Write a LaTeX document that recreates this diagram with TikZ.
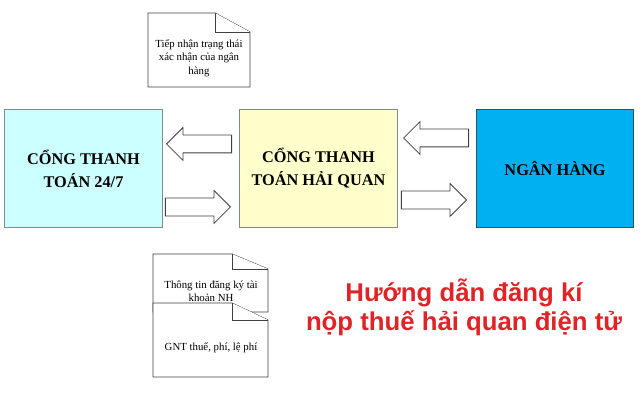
\documentclass[tikz,border=0pt]{standalone}
\usepackage{fontspec}
\setmainfont{Liberation Serif}
\newfontfamily\headfont{Liberation Sans}
\usetikzlibrary{shapes.arrows}
\definecolor{xcyan}{HTML}{CCFFFF}
\definecolor{xyellow}{HTML}{FFFFCC}
\definecolor{xblue}{HTML}{00B0F0}
\definecolor{xred}{HTML}{E02326}
\definecolor{xgray}{HTML}{7F8C8C}
\definecolor{xnavy}{HTML}{2F4F6F}
\tikzset{
	gate/.style={draw=xgray, line width=0.7pt, minimum width=3.925cm, minimum height=2.925cm, align=center, font=\fontsize{11.6}{16.3}\selectfont\bfseries},
	blockarrow/.style={draw=black!75, fill=white, line width=0.6pt, single arrow, single arrow head extend=0.1875cm, minimum width=0.8cm, minimum height=1.625cm, inner xsep=0pt, inner ysep=0.2125cm, anchor=tip},
	doc/.style={draw=black!75, fill=white, line width=0.6pt},
	doctext/.style={font=\fontsize{7.7}{9.5}\selectfont, align=center},
}

\begin{document}
\begin{tikzpicture}[x=0.025cm, y=-0.025cm]
	\useasboundingbox (0,0) rectangle (640,400);

	% Gateways
	\node[gate, fill=xcyan] (pay) at (83.5,168.5) {CỔNG THANH\\TOÁN 24/7};
	\node[gate, fill=xyellow] (customs) at (318.5,168.5) {CỔNG THANH\\TOÁN HẢI QUAN};
	\node[gate, fill=xblue, draw=xnavy] (bank) at (555,168.5) {NGÂN HÀNG};

	% Block arrows, placed by their tips
	\node[blockarrow, shape border rotate=180] (toPay) at (166,144) {};
	\node[blockarrow] (fromPay) at (231,207) {};
	\node[blockarrow, shape border rotate=180] (toCustoms) at (403,138) {};
	\node[blockarrow] (toBank) at (467,200) {};

	% Top document
	\draw[doc] (148,13) -- (215,13) -- (250,32) -- (250,87) -- (148,87) -- cycle;
	\draw[doc] (215,13) -- (215,32) -- (250,32);
	\node[doctext] (confirm) at (199,58) {Tiếp nhận trạng thái\\xác nhận của ngân\\hàng};

	% Bottom documents
	\draw[doc] (153,254) -- (232,254) -- (268,269) -- (268,312) -- (153,312) -- cycle;
	\draw[doc] (232,254) -- (232,269) -- (268,269);
	\node[doctext] (account) at (211,291) {Thông tin đăng ký tài\\khoản NH};
	\draw[doc] (153,303) -- (232,303) -- (268,320) -- (268,377) -- (153,377) -- cycle;
	\draw[doc] (232,303) -- (232,320) -- (268,320);
	\node[doctext] (fees) at (211,348) {GNT thuế, phí, lệ phí};

	% Title
	\node[font=\headfont\bfseries\fontsize{18.3}{20.6}\selectfont, text=xred, align=center] (title) at (464,307) {Hướng dẫn đăng kí\\nộp thuế hải quan điện tử};
\end{tikzpicture}
\end{document}
